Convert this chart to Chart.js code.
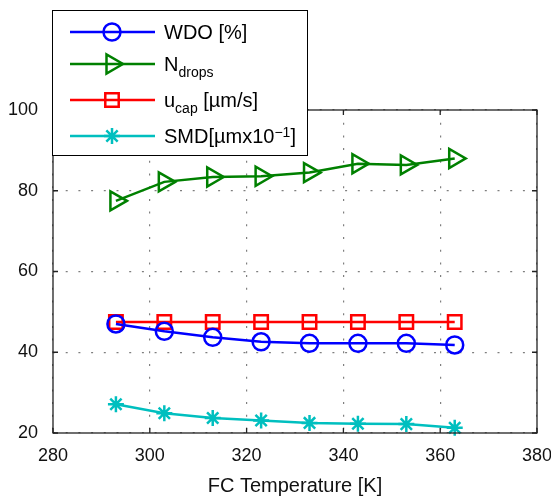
<!DOCTYPE html>
<html>
<head>
<meta charset="utf-8">
<script src="https://cdn.jsdelivr.net/npm/chart.js@4.4.0/dist/chart.umd.min.js"></script>
<style>
  html, body { margin: 0; padding: 0; background: #fff; }
</style>
</head>
<body>
<canvas id="myChart" width="551" height="498"></canvas>
<script>
// Datos
const temps = [293, 303, 313, 323, 333, 343, 353, 363];
const wdo = [47.0, 45.2, 43.7, 42.6, 42.2, 42.2, 42.2, 41.8];
const nDrops = [77.5, 82.2, 83.4, 83.6, 84.5, 86.7, 86.4, 88.0];
const uCap = [47.5, 47.5, 47.5, 47.5, 47.5, 47.5, 47.5, 47.5];
const smd = [27.1, 24.9, 23.7, 23.1, 22.5, 22.3, 22.2, 21.3];

const xTicks = [280, 300, 320, 340, 360, 380];
const yTicks = [20, 40, 60, 80, 100];

// Etiquetas de la leyenda (con subindices / superindices)
const legendLabels = [
  [{ t: "WDO [%]" }],
  [{ t: "N" }, { t: "drops", sub: true }],
  [{ t: "u" }, { t: "cap", sub: true }, { t: " [\u00b5m/s]" }],
  [{ t: "SMD[\u00b5mx10" }, { t: "\u22121", sup: true }, { t: "]" }],
];

const FONT = "'Liberation Sans', Arial, Helvetica, sans-serif";

function toPoints(values) {
  return temps.map((t, i) => ({ x: t, y: values[i] }));
}

const series = [
  { label: "WDO", data: wdo, color: "#0000ff", style: "circle", radius: 8.5, rotation: 0 },
  { label: "Ndrops", data: nDrops, color: "#008000", style: "triangle", radius: 11, rotation: 90 },
  { label: "ucap", data: uCap, color: "#ff0000", style: "rect", radius: 9.5, rotation: 0 },
  { label: "SMD", data: smd, color: "#00bfbf", style: "star", radius: 8, rotation: 0 },
];

// Caja de ejes, ticks hacia adentro y leyenda
const boxPlugin = {
  id: "boxPlugin",
  afterDraw(chart) {
    const ctx = chart.ctx;
    const a = chart.chartArea;
    const xs = chart.scales.x;
    const ys = chart.scales.y;
    ctx.save();
    ctx.setLineDash([]);
    ctx.strokeStyle = "#222";
    ctx.lineWidth = 1.3;
    ctx.strokeRect(a.left, a.top, a.right - a.left, a.bottom - a.top);

    ctx.beginPath();
    xTicks.forEach((v) => {
      const px = xs.getPixelForValue(v);
      ctx.moveTo(px, a.bottom); ctx.lineTo(px, a.bottom - 5);
      ctx.moveTo(px, a.top); ctx.lineTo(px, a.top + 5);
    });
    yTicks.forEach((v) => {
      const py = ys.getPixelForValue(v);
      ctx.moveTo(a.left, py); ctx.lineTo(a.left + 5, py);
      ctx.moveTo(a.right, py); ctx.lineTo(a.right - 5, py);
    });
    ctx.stroke();

    // Leyenda
    ctx.fillStyle = "#fff";
    ctx.fillRect(52.5, 10.5, 255, 145);
    ctx.strokeStyle = "#000";
    ctx.lineWidth = 1;
    ctx.strokeRect(52.5, 10.5, 255, 145);

    const rowY = [32, 64, 100, 136];
    series.forEach((s, i) => {
      const y = rowY[i];
      ctx.strokeStyle = s.color;
      ctx.lineWidth = 2.5;
      ctx.beginPath();
      ctx.moveTo(70, y);
      ctx.lineTo(155, y);
      ctx.stroke();
      ctx.fillStyle = "rgba(0,0,0,0)";
      Chart.helpers.drawPoint(ctx, {
        pointStyle: s.style, radius: s.radius, rotation: s.rotation, borderWidth: 2.5,
      }, 112, y);

      let x = 164;
      const base = y + 7;
      ctx.fillStyle = "#000";
      ctx.textBaseline = "alphabetic";
      ctx.textAlign = "left";
      legendLabels[i].forEach((p) => {
        let size = 20, by = base;
        if (p.sub) { size = 14; by = base + 6; }
        if (p.sup) { size = 14; by = base - 6; }
        ctx.font = size + "px " + FONT;
        ctx.fillText(p.t, x, by);
        x += ctx.measureText(p.t).width;
      });
    });
    ctx.restore();
  },
};

const ctx = document.getElementById("myChart").getContext("2d");
const myChart = new Chart(ctx, {
  type: "line",
  data: {
    datasets: series.map((s) => ({
      label: s.label,
      data: toPoints(s.data),
      borderColor: s.color,
      backgroundColor: "rgba(0,0,0,0)",
      borderWidth: 2.5,
      pointStyle: s.style,
      pointRadius: s.radius,
      pointRotation: s.rotation,
      pointBorderWidth: 2.5,
      pointBorderColor: s.color,
      pointBackgroundColor: "rgba(0,0,0,0)",
      tension: 0,
      clip: false,
    })),
  },
  plugins: [boxPlugin],
  options: {
    responsive: false,
    animation: false,
    layout: { padding: { top: 110, right: 14, left: 0, bottom: 0 } },
    plugins: { legend: { display: false }, tooltip: { enabled: false } },
    scales: {
      x: {
        type: "linear",
        min: 280,
        max: 380,
        afterBuildTicks: (scale) => { scale.ticks = xTicks.map((v) => ({ value: v })); },
        afterFit: (scale) => { scale.height = 65; scale.paddingLeft = 0; scale.paddingRight = 0; },
        grid: { color: "rgba(0,0,0,0.5)", lineWidth: 1.2, drawTicks: false },
        border: { display: false, dash: [2, 10.7] },
        ticks: { color: "#111", padding: 12, font: { family: FONT, size: 18 } },
        title: {
          display: true,
          text: "FC Temperature [K]",
          color: "#111",
          padding: { top: 0, bottom: 0 },
          font: { family: FONT, size: 20 },
        },
      },
      y: {
        type: "linear",
        min: 20,
        max: 100,
        afterBuildTicks: (scale) => { scale.ticks = yTicks.map((v) => ({ value: v })); },
        afterFit: (scale) => { scale.width = 53; },
        grid: { color: "rgba(0,0,0,0.5)", lineWidth: 1.2, drawTicks: false },
        border: { display: false, dash: [2, 10.7] },
        ticks: { color: "#111", padding: 15, font: { family: FONT, size: 18 } },
      },
    },
  },
});
</script>
</body>
</html>
